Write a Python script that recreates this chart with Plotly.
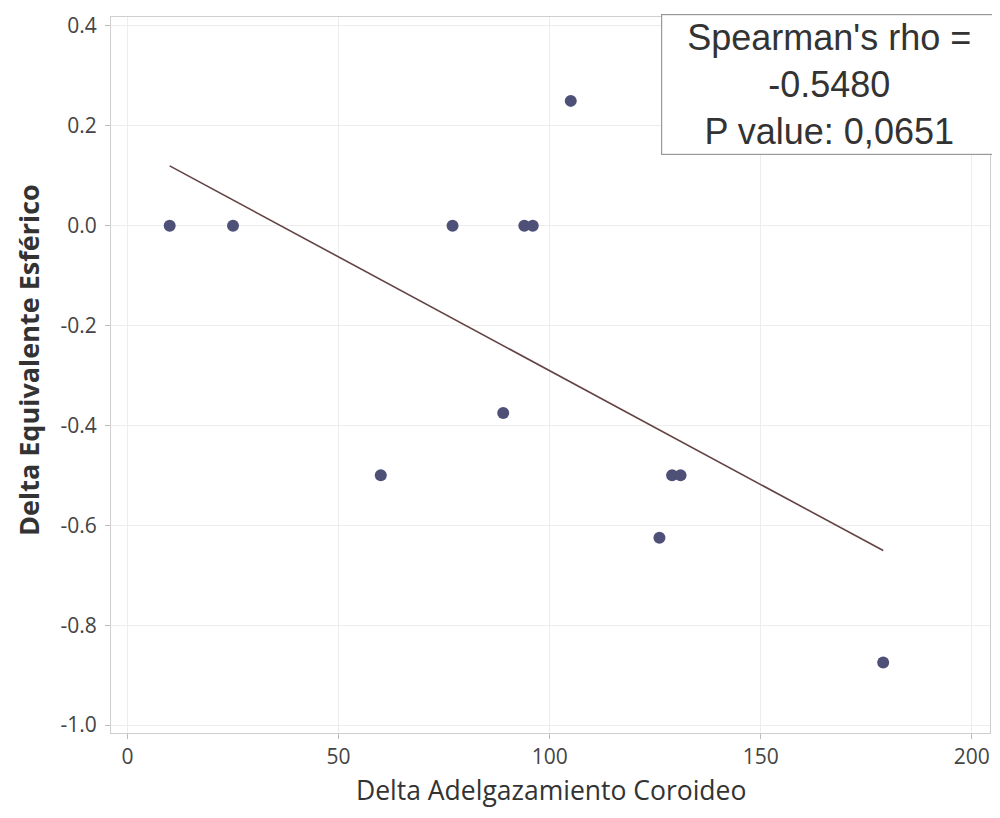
import numpy as np
import plotly.graph_objects as go

# Data
delta_adelgazamiento = [10, 25, 60, 77, 89, 94, 96, 105, 126, 129, 131, 179]
delta_equivalente = [0.0, 0.0, -0.5, 0.0, -0.375, 0.0, 0.0, 0.25, -0.625, -0.5, -0.5, -0.875]
x_ticks = [0, 50, 100, 150, 200]
x_tick_labels = ["0", "50", "100", "150", "200"]
y_ticks = [0.4, 0.2, 0.0, -0.2, -0.4, -0.6, -0.8, -1.0]
y_tick_labels = ["0.4", "0.2", "0.0", "-0.2", "-0.4", "-0.6", "-0.8", "-1.0"]
x_title = "Delta Adelgazamiento Coroideo"
y_title = "Delta Equivalente Esférico"
stats_text = "Spearman's rho =<br>-0.5480<br>P value: 0,0651"

# Least-squares fit line over the data range
slope, intercept = np.polyfit(delta_adelgazamiento, delta_equivalente, 1)
fit_x = [min(delta_adelgazamiento), max(delta_adelgazamiento)]
fit_y = [slope * v + intercept for v in fit_x]

fig = go.Figure()
fig.add_trace(go.Scatter(
    x=fit_x, y=fit_y, mode="lines",
    line=dict(color="#634343", width=1.6),
    showlegend=False, hoverinfo="skip"))
fig.add_trace(go.Scatter(
    x=delta_adelgazamiento, y=delta_equivalente, mode="markers",
    marker=dict(color="#4f5077", size=12),
    showlegend=False))

axis_font = dict(family="Open Sans, sans-serif", size=21, color="#444")
# page body has a default 8px margin, so the figure is sized to fit the window exactly
fig.update_layout(
    width=984, height=802,
    margin=dict(l=103, r=2, t=9, b=77),
    paper_bgcolor="white", plot_bgcolor="white",
    font=dict(family="Open Sans, sans-serif", color="#333"),
    xaxis=dict(
        range=[-3.9, 204.3], tickvals=x_ticks, ticktext=x_tick_labels, tickfont=axis_font,
        showgrid=True, gridcolor="#ededed", gridwidth=1,
        zeroline=False, showline=True, linecolor="#cfcfcf", mirror=True,
        ticks="outside", ticklen=5, tickcolor="#bbbbbb", automargin=False),
    yaxis=dict(
        range=[-1.016, 0.418], tickvals=y_ticks, ticktext=y_tick_labels, tickfont=axis_font,
        showgrid=True, gridcolor="#ededed", gridwidth=1,
        zeroline=False, showline=True, linecolor="#cfcfcf", mirror=True,
        ticks="outside", ticklen=5, tickcolor="#bbbbbb", ticklabelstandoff=4,
        automargin=False),
)
# axis titles
fig.add_annotation(
    xref="paper", yref="paper", x=0.5, y=0, yshift=-57,
    xanchor="center", yanchor="middle", showarrow=False,
    text=x_title, font=dict(family="Open Sans, sans-serif", size=26.5, color="#333"))
fig.add_annotation(
    xref="paper", yref="paper", x=0, y=0.5, xshift=-83, yshift=15,
    xanchor="center", yanchor="middle", showarrow=False, textangle=-90,
    text="<b>" + y_title + "</b>", font=dict(family="Open Sans, sans-serif", size=27, color="#333"))
# statistics box
fig.add_annotation(
    xref="paper", yref="paper", x=1.008, y=1.004,
    xanchor="right", yanchor="top",
    text=stats_text, showarrow=False, align="center",
    width=330,
    font=dict(family="Liberation Sans, Arial, sans-serif", size=36, color="#333"),
    bordercolor="#999999", borderwidth=1.2, borderpad=2, bgcolor="white")

fig.write_html("out.html")
